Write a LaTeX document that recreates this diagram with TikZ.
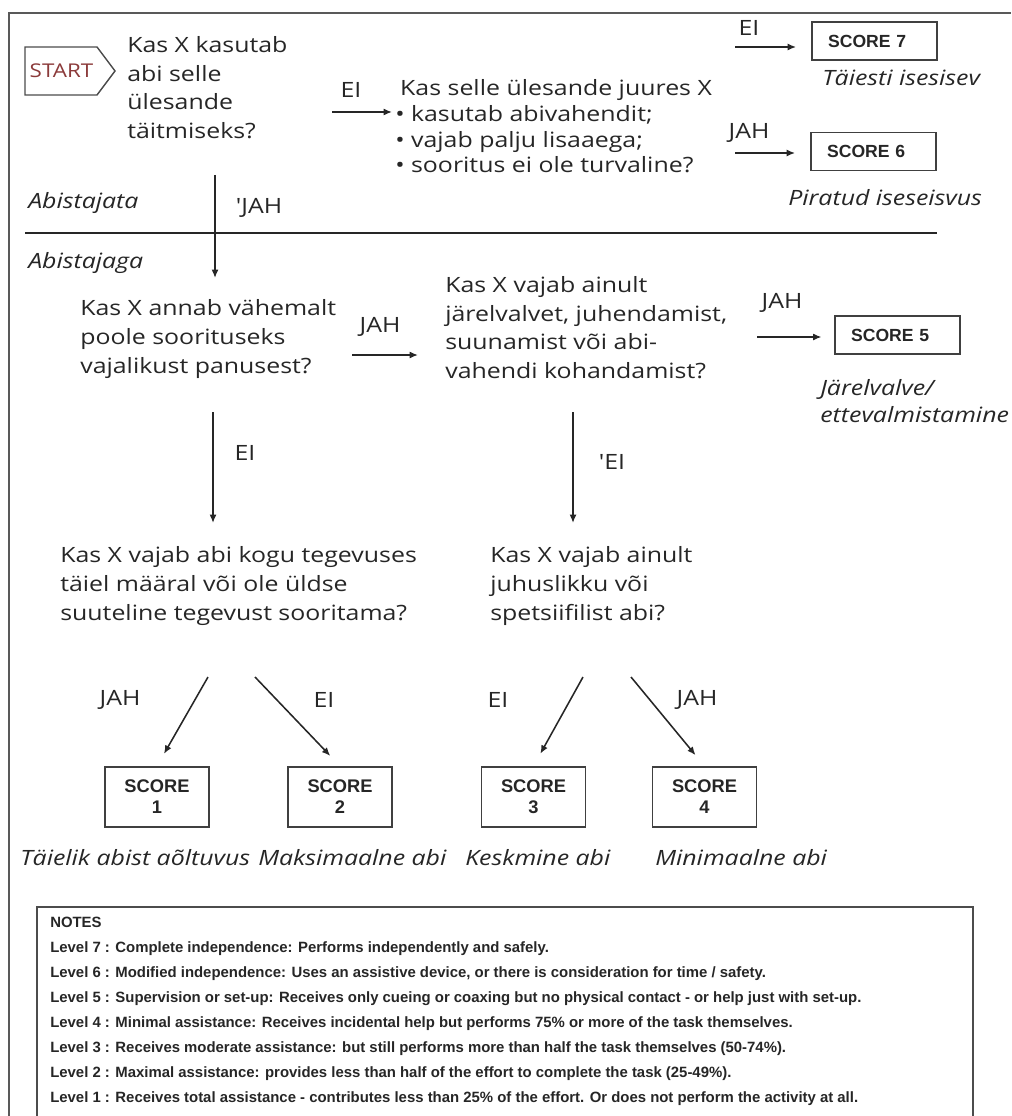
\documentclass[tikz,border=0pt]{standalone}
\usepackage{fontspec}
\usetikzlibrary{arrows.meta}
\newfontfamily\qfont[FakeStretch=1.18]{Open Sans}
\newfontfamily\boxfont{Liberation Sans}
\definecolor{startred}{HTML}{8B3A3A}
\definecolor{ink}{HTML}{262626}

\tikzset{
  qtext/.style={font=\qfont\fontsize{15}{20.3}\selectfont, align=left, inner sep=0pt, anchor=west, text=ink},
  ans/.style={font=\qfont\fontsize{15}{17}\selectfont, inner sep=0pt, text=ink},
  level/.style={font=\qfont\itshape\fontsize{15}{19.7}\selectfont, align=left, inner sep=0pt, anchor=west, text=ink},
  scorebox/.style={draw=black!75, line width=1.3pt, text=ink, font=\boxfont\bfseries\fontsize{12.5}{15}\selectfont},
  topscore/.style={scorebox, text width=66pt, inner xsep=11.4pt, inner ysep=0pt, align=left, minimum height=27pt},
  lowscore/.style={scorebox, font=\boxfont\bfseries\fontsize{13}{15}\selectfont, minimum width=74pt, minimum height=42.7pt, inner sep=0pt, align=center},
  arr/.style={-{Latex[length=6pt,width=5pt]}, line width=1.1pt, draw=ink},
  frame/.style={draw=black!65, line width=1.1pt}
}

\begin{document}
\begin{tikzpicture}[x=0.025cm, y=-0.025cm]
\useasboundingbox (0,0) rectangle (1011,1116);

% frame and separator
\draw[frame] (9,1116) -- (9,13) -- (1011,13);
\draw[line width=1pt, ink] (25,233) -- (937,233);

% start
\draw[black!70, line width=1pt] (25,47) -- (97,47) -- (115,71) -- (97,95) -- (25,95) -- cycle;
\node[font=\qfont\fontsize{13.5}{16}\selectfont, text=startred, inner sep=0pt] (start) at (61.5,71) {START};

% questions
\node[qtext] (q1) at (127,87.5) {Kas X kasutab\\abi selle\\ülesande\\täitmiseks?};
\node[qtext, font=\qfont\fontsize{15}{18.3}\selectfont] (q2) at (395,126.5) {\hspace{3.5pt}Kas selle ülesande juures X\\• kasutab abivahendit;\\• vajab palju lisaaega;\\• sooritus ei ole turvaline?};
\node[qtext] (q3) at (80,339) {Kas X annab vähemalt\\poole soorituseks\\vajalikust panusest?};
\node[qtext] (q4) at (445,327.5) {Kas X vajab ainult\\järelvalvet, juhendamist,\\suunamist või abi-\\vahendi kohandamist?};
\node[qtext] (q5) at (60,586) {Kas X vajab abi kogu tegevuses\\täiel määral või ole üldse\\suuteline tegevust sooritama?};
\node[qtext] (q6) at (490,586) {Kas X vajab ainult\\juhuslikku või\\spetsiifilist abi?};

% scores
\node[topscore] (s7) at (874.5,41) {SCORE 7};
\node[topscore] (s6) at (873.5,151.5) {SCORE 6};
\node[topscore] (s5) at (897.5,335) {SCORE 5};
\node[lowscore] (s1) at (157,797) {SCORE\\1};
\node[lowscore] (s2) at (340,797) {SCORE\\2};
\node[lowscore] (s3) at (533.5,797) {SCORE\\3};
\node[lowscore] (s4) at (704.5,797) {SCORE\\4};

% level names
\node[level] (abta) at (28,203) {Abistajata};
\node[level] (abga) at (28,263) {Abistajaga};
\node[level] (l7) at (822,78) {Täiesti isesisev};
\node[level] (l6) at (788,198) {Piratud iseseisvus};
\node[level] (l5) at (820,401) {Järelvalve/\\ettevalmistamine};
\node[level] (l1) at (20,858) {Täielik abist aõltuvus};
\node[level] (l2) at (258,858) {Maksimaalne abi};
\node[level] (l3) at (465,858) {Keskmine abi};
\node[level] (l4) at (655,858) {Minimaalne abi};

% connector ends
\coordinate (a1) at (332,112);  \coordinate (b1) at (392,112);
\coordinate (a2) at (735,47);   \coordinate (a3) at (735,153);
\coordinate (a4) at (215,175);  \coordinate (b4) at (215,278);
\coordinate (a5) at (352,355);  \coordinate (b5) at (418,355);
\coordinate (a6) at (757,337);
\coordinate (a7) at (213,412);  \coordinate (b7) at (213,523);
\coordinate (a8) at (573,412);  \coordinate (b8) at (573,523);
\coordinate (a9) at (208,677);  \coordinate (a10) at (255,677);
\coordinate (a11) at (583,677); \coordinate (a12) at (631,677);

\draw[arr] (a1) -- (b1);
\draw[arr, shorten >=10.7pt] (a2) -- (s7.west |- a2);
\draw[arr, shorten >=10.7pt] (a3) -- (s6.west |- a3);
\draw[arr] (a4) -- (b4);
\draw[arr] (a5) -- (b5);
\draw[arr, shorten >=9pt] (a6) -- (s5.west |- a6);
\draw[arr] (a7) -- (b7);
\draw[arr] (a8) -- (b8);
\draw[arr, shorten >=10pt] (a9) -- (s1.north);
\draw[arr, shorten >=10pt] (a10) -- (s2.north);
\draw[arr, shorten >=10pt] (a11) -- (s3.north);
\draw[arr, shorten >=10pt] (a12) -- (s4.north);

% answers
\node[ans] (e1) at (351,90) {EI};
\node[ans] (e2) at (749,28) {EI};
\node[ans] (j2) at (749,133) {JAH};
\node[ans] (j1) at (259,208) {'JAH};
\node[ans] (j3) at (380,327) {JAH};
\node[ans] (j4) at (782,303) {JAH};
\node[ans] (e3) at (245,453) {EI};
\node[ans] (e4) at (612,462) {'EI};
\node[ans] (j5) at (120,700) {JAH};
\node[ans] (e5) at (324,700) {EI};
\node[ans] (e6) at (498,700) {EI};
\node[ans] (j6) at (697,700) {JAH};

% notes
\draw[black!70, line width=1.3pt] (37,907) rectangle (973,1130);
\node[font=\boxfont\bfseries\fontsize{10.6}{17.8}\selectfont, text=ink, align=left, inner sep=0pt, anchor=north west] (notes) at (50,917)
{NOTES\\
Level 7 : Complete independence: Performs independently and safely.\\
Level 6 : Modified independence: Uses an assistive device, or there is consideration for time / safety.\\
Level 5 : Supervision or set-up: Receives only cueing or coaxing but no physical contact - or help just with set-up.\\
Level 4 : Minimal assistance: Receives incidental help but performs 75\% or more of the task themselves.\\
Level 3 : Receives moderate assistance: but still performs more than half the task themselves (50-74\%).\\
Level 2 : Maximal assistance: provides less than half of the effort to complete the task (25-49\%).\\
Level 1 : Receives total assistance - contributes less than 25\% of the effort. Or does not perform the activity at all.};
\end{tikzpicture}
\end{document}
